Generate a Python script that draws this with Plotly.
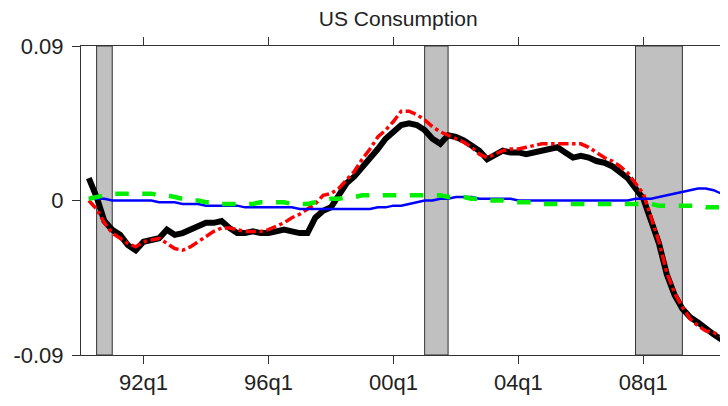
import plotly.graph_objects as go

# quarterly dates, 1990q2 .. 2010q3 as decimal years
quarters = [1990.25 + 0.25 * i for i in range(82)]

actual = [
    0.013, 0.002, -0.012, -0.017, -0.020, -0.026, -0.029, -0.024,
    -0.023, -0.022, -0.017, -0.020, -0.019, -0.017, -0.015, -0.013,
    -0.013, -0.012, -0.016, -0.019, -0.019, -0.018, -0.019, -0.019,
    -0.018, -0.017, -0.018, -0.019, -0.019, -0.010, -0.006, -0.004,
    0.003, 0.010, 0.014, 0.019, 0.025, 0.030, 0.036, 0.040,
    0.044, 0.045, 0.044, 0.041, 0.036, 0.033, 0.038, 0.037,
    0.035, 0.032, 0.029, 0.024, 0.027, 0.029, 0.028, 0.028,
    0.027, 0.028, 0.029, 0.030, 0.031, 0.028, 0.025, 0.026,
    0.025, 0.023, 0.022, 0.020, 0.016, 0.013, 0.007, 0.001,
    -0.012, -0.025, -0.043, -0.055, -0.063, -0.068, -0.071, -0.075,
    -0.078, -0.081,
]

fitted = [
    0.000, -0.005, -0.013, -0.019, -0.022, -0.025, -0.027, -0.024,
    -0.023, -0.022, -0.025, -0.028, -0.029, -0.027, -0.024, -0.021,
    -0.018, -0.016, -0.016, -0.017, -0.018, -0.018, -0.018, -0.017,
    -0.015, -0.013, -0.010, -0.008, -0.005, -0.002, 0.003, 0.004,
    0.007, 0.012, 0.017, 0.024, 0.030, 0.037, 0.041, 0.046,
    0.052, 0.052, 0.050, 0.047, 0.043, 0.040, 0.038, 0.036,
    0.034, 0.031, 0.027, 0.025, 0.027, 0.029, 0.030, 0.030,
    0.031, 0.032, 0.033, 0.033, 0.033, 0.033, 0.033, 0.033,
    0.031, 0.028, 0.025, 0.023, 0.020, 0.016, 0.010, 0.004,
    -0.010, -0.024, -0.042, -0.054, -0.062, -0.069, -0.073, -0.076,
    -0.077, -0.079,
]

blue = [
    0.001, 0.001, 0.001, 0.000, 0.000, 0.000, 0.000, 0.000,
    -0.000, -0.001, -0.001, -0.001, -0.002, -0.002, -0.002, -0.003,
    -0.003, -0.003, -0.003, -0.003, -0.004, -0.004, -0.004, -0.004,
    -0.004, -0.004, -0.004, -0.005, -0.005, -0.005, -0.005, -0.005,
    -0.005, -0.005, -0.005, -0.005, -0.005, -0.004, -0.004, -0.003,
    -0.003, -0.002, -0.001, 0.000, 0.000, 0.001, 0.001, 0.002,
    0.002, 0.002, 0.001, 0.001, 0.001, 0.001, 0.001, 0.000,
    0.000, 0.000, -0.000, -0.000, -0.000, -0.000, -0.000, -0.000,
    -0.000, -0.000, 0.000, 0.000, 0.000, 0.000, 0.001, 0.001,
    0.001, 0.002, 0.003, 0.004, 0.005, 0.006, 0.007, 0.007,
    0.006, 0.004,
]

green = [
    0.001, 0.002, 0.003, 0.004, 0.004, 0.004, 0.004, 0.004,
    0.004, 0.003, 0.003, 0.002, 0.001, 0.000, -0.000, -0.001,
    -0.001, -0.002, -0.002, -0.002, -0.002, -0.002, -0.001, -0.001,
    -0.001, -0.001, -0.002, -0.002, -0.002, -0.001, -0.000, 0.001,
    0.001, 0.002, 0.002, 0.003, 0.003, 0.003, 0.003, 0.003,
    0.003, 0.003, 0.003, 0.003, 0.003, 0.003, 0.002, 0.002,
    0.002, 0.001, 0.001, 0.000, 0.000, -0.000, -0.001, -0.001,
    -0.001, -0.001, -0.002, -0.002, -0.002, -0.002, -0.002, -0.002,
    -0.002, -0.002, -0.002, -0.002, -0.002, -0.002, -0.002, -0.002,
    -0.002, -0.003, -0.003, -0.003, -0.003, -0.003, -0.003, -0.004,
    -0.004, -0.004,
]

recessions = [(1990.5, 1991.0), (2001.0, 2001.75), (2007.75, 2009.25)]

x_ticks = [1992, 1996, 2000, 2004, 2008]
x_labels = ["92q1", "96q1", "00q1", "04q1", "08q1"]
y_ticks = [-0.09, 0, 0.09]
y_labels = ["-0.09", "0", "0.09"]

fig = go.Figure()
fig.add_trace(go.Scatter(x=quarters, y=actual, mode="lines", line=dict(color="black", width=6)))
fig.add_trace(go.Scatter(x=quarters, y=fitted, mode="lines",
                         line=dict(color="red", width=3.5, dash="dashdot")))
fig.add_trace(go.Scatter(x=quarters, y=blue, mode="lines", line=dict(color="blue", width=2.5)))
fig.add_trace(go.Scatter(x=quarters, y=green, mode="lines",
                         line=dict(color="#00ee00", width=4.5, dash="dash")))

for a, b in recessions:
    fig.add_vrect(x0=a, x1=b, fillcolor="#c0c0c0", opacity=1, layer="below",
                  line=dict(color="#333", width=1))

# page body has an 8px default margin, so margins are shifted by that
axis_font = dict(family="Liberation Sans, Arial", size=22, color="#222")
fig.update_layout(
    width=728, height=406,
    margin=dict(l=73, r=13, t=38, b=59),
    plot_bgcolor="white", paper_bgcolor="white",
    showlegend=False,
    title=dict(text="US Consumption", x=0.536, xanchor="center",
               y=0.975, yref="container", yanchor="middle", automargin=False,
               font=dict(family="Liberation Sans, Arial", size=21, color="#222")),
    xaxis=dict(range=[1990.0, 2010.55], tickvals=x_ticks, ticktext=x_labels, automargin=False,
               showgrid=False, zeroline=False, showline=True, linecolor="#333", linewidth=1,
               mirror="ticks", ticks="outside", ticklen=8, tickcolor="#333", tickfont=axis_font),
    yaxis=dict(range=[-0.09, 0.09], tickvals=y_ticks, ticktext=y_labels, automargin=False,
               showgrid=False, zeroline=False, showline=True, linecolor="#333", linewidth=1,
               mirror="ticks", ticks="outside", ticklen=8, tickcolor="#333", tickfont=axis_font,
               ticklabelstandoff=4),
)

fig.write_html("out.html")
